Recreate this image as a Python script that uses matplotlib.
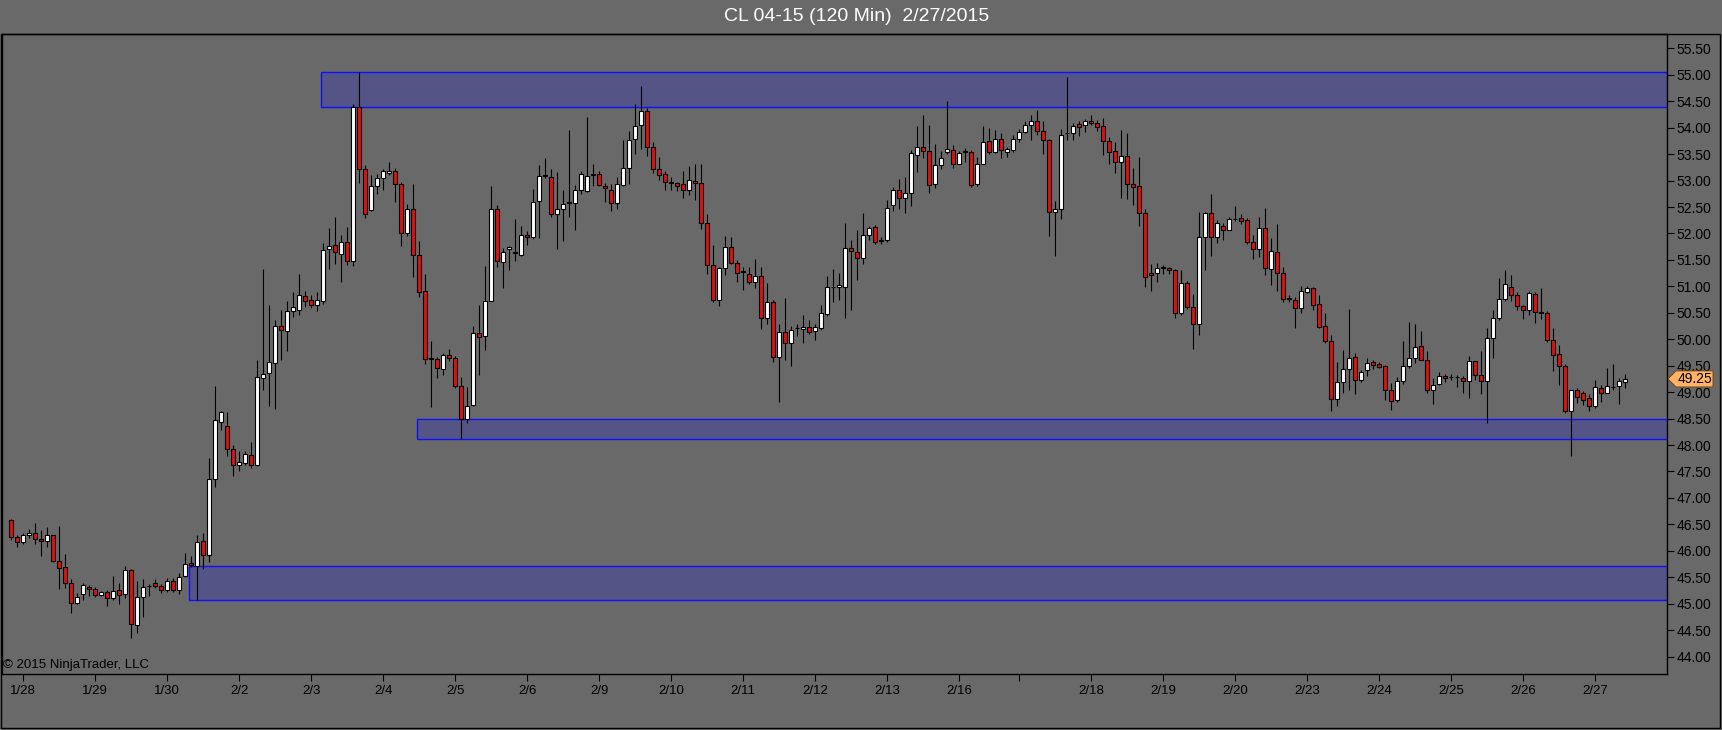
import numpy as np
import matplotlib
matplotlib.use("Agg")
import matplotlib.pyplot as plt
from matplotlib.patches import Rectangle, Polygon
from matplotlib.transforms import blended_transform_factory

plt.rcParams['font.family'] = ['Liberation Sans', 'DejaVu Sans']

title = "CL 04-15 (120 Min)  2/27/2015"

# 120 min bars, 1/27 late session -> 2/27
opens = [46.59, 46.26, 46.17, 46.29, 46.33, 46.22, 46.18, 46.29, 45.81, 45.70,
         45.40, 45.02, 45.19, 45.32, 45.27, 45.16, 45.23, 45.10, 45.26, 45.19,
         45.63, 44.59, 45.13, 45.33, 45.40, 45.33, 45.26, 45.43, 45.26, 45.53,
         45.77, 45.71, 46.19, 45.92, 47.36, 48.44, 48.36, 47.93, 47.62, 47.66,
         47.82, 47.62, 49.27, 49.36, 49.56, 50.25, 50.16, 50.54, 50.56, 50.81,
         50.74, 50.64, 50.73, 51.71, 51.78, 51.62, 51.83, 51.47, 54.40, 53.21,
         52.45, 52.90, 53.05, 53.14, 53.18, 52.93, 52.00, 52.46, 51.59, 50.92,
         49.63, 49.63, 49.44, 49.71, 49.65, 49.11, 48.49, 48.76, 50.11, 50.07,
         50.73, 52.46, 51.46, 51.70, 51.63, 51.60, 51.98, 51.93, 52.61, 53.09,
         53.07, 52.36, 52.46, 52.58, 52.58, 52.82, 52.80, 53.11, 53.12, 52.90,
         52.83, 52.58, 52.91, 53.23, 53.79, 54.05, 54.32, 53.63, 53.21, 53.12,
         52.97, 52.96, 52.93, 52.83, 53.00, 52.96, 52.20, 51.40, 50.74, 51.35,
         51.75, 51.44, 51.28, 51.24, 51.09, 51.20, 50.41, 50.70, 49.67, 50.14,
         49.92, 50.21, 50.20, 50.23, 50.16, 50.21, 50.48, 50.99, 50.98, 50.99,
         51.72, 51.65, 51.53, 51.98, 52.13, 51.86, 51.87, 52.53, 52.82, 52.67,
         52.76, 53.49, 53.64, 53.56, 52.93, 53.29, 53.54, 53.58, 53.32, 53.54,
         53.54, 52.93, 53.32, 53.74, 53.54, 53.78, 53.54, 53.58, 53.79, 53.92,
         54.05, 54.12, 53.94, 53.76, 52.40, 52.47, 53.89, 53.89, 54.06, 54.05,
         54.12, 54.08, 54.03, 53.74, 53.56, 53.36, 53.47, 52.93, 52.89, 52.38,
         51.26, 51.25, 51.35, 51.35, 51.31, 50.49, 51.06, 50.61, 50.28, 51.93,
         52.38, 51.93, 52.15, 52.07, 52.27, 52.29, 52.25, 51.84, 51.70, 52.11,
         51.33, 51.64, 51.25, 50.77, 50.75, 50.59, 50.90, 50.96, 50.66, 50.25,
         49.97, 48.87, 49.20, 49.44, 49.67, 49.23, 49.41, 49.57, 49.54, 49.49,
         49.05, 48.85, 49.21, 49.49, 49.65, 49.88, 49.61, 49.04, 49.16, 49.30,
         49.28, 49.28, 49.27, 49.21, 49.58, 49.33, 49.21, 50.03, 50.41, 50.77,
         50.99, 50.83, 50.62, 50.56, 50.86, 50.51, 50.49, 49.99, 49.72, 49.49,
         48.65, 49.04, 48.98, 48.89, 48.74, 49.07, 48.99, 49.09, 49.11, 49.20]

highs = [46.60, 46.30, 46.34, 46.41, 46.52, 46.39, 46.46, 46.30, 46.47, 45.94,
         45.47, 45.21, 45.40, 45.36, 45.32, 45.24, 45.26, 45.53, 45.39, 45.71,
         45.66, 45.43, 45.47, 45.37, 45.46, 45.37, 45.49, 45.48, 45.59, 45.96,
         45.91, 46.30, 46.34, 47.75, 49.12, 48.65, 48.62, 48.00, 47.89, 47.89,
         48.05, 49.60, 51.33, 50.64, 50.36, 50.56, 50.73, 50.90, 51.24, 50.92,
         50.84, 50.90, 51.82, 52.11, 52.32, 51.98, 52.13, 54.45, 55.05, 53.29,
         53.11, 53.12, 53.21, 53.36, 53.24, 52.98, 52.56, 52.93, 51.85, 51.24,
         49.96, 49.67, 49.74, 49.81, 49.69, 49.28, 49.10, 50.25, 50.64, 51.39,
         52.90, 52.54, 51.73, 51.77, 52.27, 52.15, 52.04, 52.84, 53.29, 53.43,
         53.21, 53.16, 52.83, 53.95, 52.92, 53.19, 54.21, 53.31, 53.18, 52.95,
         52.93, 53.07, 53.77, 53.94, 54.45, 54.79, 54.37, 53.72, 53.45, 53.18,
         53.07, 52.98, 53.19, 53.27, 53.32, 53.32, 52.37, 51.78, 51.37, 51.96,
         51.93, 51.50, 51.37, 51.37, 51.51, 51.37, 51.06, 50.75, 50.28, 50.78,
         50.25, 50.28, 50.46, 50.36, 50.28, 50.64, 51.19, 51.32, 51.26, 52.20,
         51.88, 52.06, 52.38, 52.15, 52.16, 51.93, 52.64, 52.87, 53.03, 53.07,
         53.58, 54.03, 54.23, 54.05, 53.70, 53.56, 54.50, 53.67, 53.56, 53.61,
         53.58, 53.45, 54.03, 53.99, 53.96, 53.90, 53.64, 53.87, 53.97, 54.12,
         54.23, 54.34, 54.12, 53.79, 52.61, 53.97, 54.95, 54.08, 54.12, 54.16,
         54.24, 54.14, 54.19, 53.83, 53.72, 53.95, 53.90, 53.24, 53.45, 52.47,
         51.42, 51.44, 51.41, 51.37, 51.33, 51.31, 51.10, 50.85, 52.40, 52.40,
         52.74, 52.25, 52.20, 52.31, 52.51, 52.36, 52.30, 51.98, 52.31, 52.48,
         51.91, 52.17, 51.37, 50.83, 50.79, 51.01, 51.01, 50.99, 50.83, 50.50,
         50.08, 49.57, 49.80, 50.57, 49.74, 49.41, 49.65, 49.61, 49.57, 49.52,
         49.18, 49.28, 49.97, 50.33, 50.28, 50.15, 49.77, 49.27, 49.38, 49.35,
         49.34, 49.33, 49.30, 49.69, 49.59, 49.78, 50.21, 50.56, 51.15, 51.30,
         51.22, 50.90, 50.65, 50.92, 50.90, 50.96, 50.54, 50.21, 49.90, 49.54,
         49.05, 49.07, 49.02, 48.96, 49.23, 49.14, 49.45, 49.54, 49.27, 49.34]

lows = [46.21, 46.08, 46.12, 46.25, 46.12, 45.90, 46.08, 45.79, 45.27, 45.29,
        44.82, 45.00, 45.08, 45.14, 45.13, 45.14, 44.96, 45.07, 45.00, 45.11,
        44.35, 44.44, 44.74, 45.14, 45.29, 45.21, 45.23, 45.23, 45.18, 45.50,
        45.69, 45.07, 45.65, 45.79, 47.21, 48.29, 47.79, 47.42, 47.50, 47.62,
        47.57, 47.60, 49.05, 48.73, 48.68, 49.60, 49.78, 50.43, 50.46, 50.61,
        50.59, 50.54, 50.66, 51.33, 51.43, 51.09, 51.41, 51.38, 52.95, 52.30,
        52.42, 52.75, 52.82, 53.11, 52.60, 51.77, 51.95, 51.17, 50.79, 49.54,
        48.71, 49.26, 49.33, 49.58, 49.07, 48.12, 48.41, 48.73, 49.33, 49.80,
        50.72, 51.37, 50.97, 51.31, 51.48, 51.57, 51.79, 51.89, 51.91, 53.05,
        52.31, 51.71, 51.86, 52.31, 52.06, 52.74, 52.78, 52.89, 52.89, 52.60,
        52.42, 52.47, 52.89, 52.93, 53.50, 53.60, 53.47, 53.14, 53.01, 52.83,
        52.82, 52.80, 52.67, 52.73, 52.64, 52.09, 51.24, 50.70, 50.63, 51.22,
        51.43, 51.09, 50.93, 51.04, 50.97, 50.20, 50.28, 49.57, 48.81, 49.60,
        49.49, 50.07, 49.92, 50.10, 49.99, 50.17, 50.44, 50.70, 50.75, 50.41,
        50.56, 51.12, 51.43, 51.88, 51.80, 51.80, 51.84, 52.42, 52.47, 52.38,
        52.51, 53.16, 53.43, 52.76, 52.85, 53.21, 53.51, 53.23, 53.31, 53.36,
        52.87, 52.89, 53.31, 53.50, 53.53, 53.43, 53.45, 53.54, 53.72, 53.89,
        53.77, 53.87, 53.50, 51.95, 51.57, 52.27, 53.76, 53.76, 53.85, 53.92,
        54.05, 53.94, 53.48, 53.32, 53.14, 52.67, 52.66, 52.54, 52.15, 50.99,
        50.91, 51.08, 51.24, 51.24, 50.41, 50.46, 50.57, 49.81, 50.08, 51.31,
        51.57, 51.82, 51.88, 52.06, 52.24, 52.18, 51.80, 51.51, 51.55, 51.21,
        51.02, 50.92, 50.70, 50.70, 50.22, 50.50, 50.88, 50.56, 50.21, 49.92,
        48.65, 48.73, 48.99, 49.05, 48.96, 49.20, 49.31, 49.43, 49.45, 48.85,
        48.67, 48.82, 49.16, 49.45, 49.56, 49.60, 48.98, 48.78, 49.13, 49.20,
        49.23, 49.09, 48.99, 48.89, 49.23, 48.96, 48.41, 49.65, 50.37, 50.73,
        50.73, 50.56, 50.39, 50.46, 50.30, 50.39, 49.94, 49.40, 49.14, 48.60,
        47.79, 48.80, 48.75, 48.65, 48.70, 48.82, 48.98, 49.04, 48.78, 49.07]

closes = [46.26, 46.17, 46.30, 46.33, 46.22, 46.18, 46.29, 45.81, 45.67, 45.40,
          45.02, 45.13, 45.35, 45.28, 45.17, 45.22, 45.10, 45.25, 45.16, 45.63,
          44.61, 45.13, 45.32, 45.34, 45.33, 45.26, 45.43, 45.26, 45.50, 45.76,
          45.74, 46.17, 45.92, 47.36, 48.47, 48.62, 47.93, 47.62, 47.68, 47.84,
          47.62, 49.28, 49.34, 49.57, 50.25, 50.17, 50.54, 50.61, 50.83, 50.73,
          50.64, 50.75, 51.69, 51.76, 51.64, 51.83, 51.47, 54.40, 53.21, 52.36,
          52.89, 53.05, 53.18, 53.19, 52.93, 52.00, 52.46, 51.59, 50.90, 49.63,
          49.63, 49.46, 49.70, 49.65, 49.11, 48.49, 48.74, 50.12, 50.05, 50.73,
          52.46, 51.47, 51.64, 51.74, 51.64, 51.98, 51.94, 52.60, 53.09, 53.09,
          52.36, 52.46, 52.56, 52.58, 52.82, 53.12, 53.09, 53.11, 52.92, 52.85,
          52.58, 52.93, 53.23, 53.77, 54.03, 54.32, 53.63, 53.21, 53.11, 52.98,
          52.95, 52.90, 52.83, 53.02, 52.96, 52.20, 51.40, 50.74, 51.35, 51.75,
          51.44, 51.26, 51.27, 51.09, 51.20, 50.41, 50.70, 49.67, 50.14, 49.92,
          50.17, 50.21, 50.23, 50.14, 50.23, 50.50, 50.99, 50.98, 51.03, 51.72,
          51.66, 51.53, 51.98, 52.11, 51.83, 51.87, 52.49, 52.82, 52.67, 52.77,
          53.52, 53.64, 53.56, 52.91, 53.29, 53.43, 53.60, 53.32, 53.53, 53.54,
          52.91, 53.32, 53.72, 53.54, 53.79, 53.57, 53.59, 53.79, 53.92, 54.05,
          54.12, 53.94, 53.77, 52.40, 52.46, 53.87, 53.89, 54.03, 54.01, 54.12,
          54.08, 54.01, 53.74, 53.54, 53.36, 53.47, 52.93, 52.87, 52.38, 51.17,
          51.22, 51.35, 51.35, 51.30, 50.50, 51.06, 50.61, 50.28, 51.93, 52.38,
          51.93, 52.19, 52.07, 52.27, 52.28, 52.24, 51.84, 51.70, 52.11, 51.35,
          51.66, 51.25, 50.77, 50.78, 50.59, 50.91, 50.96, 50.65, 50.23, 49.97,
          48.87, 49.20, 49.44, 49.65, 49.23, 49.38, 49.56, 49.52, 49.47, 49.05,
          48.83, 49.21, 49.49, 49.65, 49.86, 49.61, 49.04, 49.14, 49.30, 49.26,
          49.28, 49.28, 49.21, 49.59, 49.33, 49.21, 50.03, 50.41, 50.77, 51.04,
          50.83, 50.63, 50.56, 50.88, 50.52, 50.50, 49.98, 49.70, 49.50, 48.64,
          49.04, 48.91, 48.85, 48.74, 49.09, 48.99, 49.11, 49.09, 49.21, 49.25]

# bar index where each session date starts
date_ticks = [2, 14, 26, 38, 50, 62, 74, 86, 98, 110, 122, 134, 146, 158, 168,
              180, 192, 204, 216, 228, 240, 252, 264]
date_labels = ["1/28", "1/29", "1/30", "2/2", "2/3", "2/4", "2/5", "2/6", "2/9",
               "2/10", "2/11", "2/12", "2/13", "2/16", "", "2/18", "2/19", "2/20",
               "2/23", "2/24", "2/25", "2/26", "2/27"]

# drawn price zones (start bar, low, high)
zone_start = [52, 68, 30]
zone_low = [54.40, 48.12, 45.08]
zone_high = [55.05, 48.50, 45.71]

bg = '#696969'
W, H = 1722, 730

fig = plt.figure(figsize=(W / 100, H / 100), dpi=100, facecolor=bg)
ax_l, ax_r, ax_t, ax_b = 1.5, 1667, 34.3, 674.3   # pixel frame of the price panel
ax = fig.add_axes([ax_l / W, (H - ax_b) / H, (ax_r - ax_l) / W, (ax_b - ax_t) / H])
ax.set_facecolor(bg)

o = np.array(opens)
h = np.array(highs)
l = np.array(lows)
c = np.array(closes)
x = np.arange(len(o))

# zones
for s, lo, hi in zip(zone_start, zone_low, zone_high):
    ax.add_patch(Rectangle((s - 0.35, lo), 400, hi - lo, facecolor=(0, 0, 1, 0.2),
                           edgecolor='#1010ff', linewidth=1.0, zorder=1))

# candles
ax.vlines(x, l, h, color='black', linewidth=0.8, zorder=2)
up = c >= o
body_lo = np.minimum(o, c)
body_h = np.maximum(np.abs(c - o), 0.012)
ax.bar(x[up], body_h[up], bottom=body_lo[up], width=0.72, color='white',
       edgecolor='black', linewidth=0.8, zorder=3)
ax.bar(x[~up], body_h[~up], bottom=body_lo[~up], width=0.72, color='#e01010',
       edgecolor='black', linewidth=0.8, zorder=3)

ax.set_xlim(-1.63, 275.95)
ax.set_ylim(43.666, 55.765)

ax.yaxis.tick_right()
ax.set_yticks(np.arange(44.0, 55.51, 0.5))
ax.set_yticklabels(["%.2f" % v for v in np.arange(44.0, 55.51, 0.5)])
ax.tick_params(axis='y', length=5, width=0.8, pad=2, labelsize=10, colors='black')
ax.set_xticks(date_ticks)
ax.set_xticklabels(date_labels)
ax.tick_params(axis='x', length=5, width=0.8, pad=3, labelsize=9.5, colors='black')
for sp in ax.spines.values():
    sp.set_color('black')
    sp.set_linewidth(1.0)

# last price marker
last = closes[-1]
tr = blended_transform_factory(ax.transAxes, ax.transData)
def fx(px):
    return (px - ax_l) / (ax_r - ax_l)
dy = 8 / ((ax_b - ax_t) / (55.765 - 43.666))
marker = Polygon([(fx(1668), last), (fx(1676), last + dy), (fx(1713), last + dy),
                  (fx(1713), last - dy), (fx(1676), last - dy)], closed=True,
                 transform=tr, facecolor='#ffb366', edgecolor='#704010',
                 linewidth=0.6, clip_on=False, zorder=5)
ax.add_patch(marker)
ax.text(fx(1695), last, "%.2f" % last, transform=tr, ha='center', va='center',
        fontsize=10, color='black', clip_on=False, zorder=6)

ax.text(fx(3), (ax_b - 665) / (ax_b - ax_t), "\u00a9 2015 NinjaTrader, LLC",
        transform=ax.transAxes, ha='left', va='center', fontsize=9.5, color='black')

# outer frame
fig.add_artist(Rectangle((1 / W, 2 / H), 1719 / W, (H - ax_t - 2) / H,
                         transform=fig.transFigure, fill=False,
                         edgecolor='black', linewidth=1.0))

fig.text(857 / W, (H - 16.5) / H, title, ha='center', va='center',
         fontsize=14, color='white')

fig.savefig("out.png", dpi=100, facecolor=bg)
